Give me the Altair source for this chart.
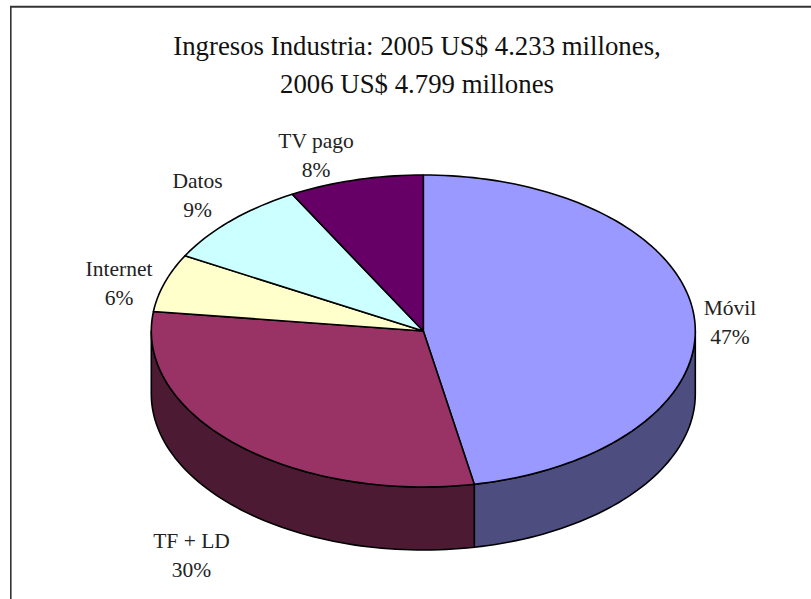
import math
import altair as alt
import pandas as pd

# Revenue share per segment, clockwise from twelve o'clock
segments = ["Móvil", "TF + LD", "Internet", "Datos", "TV pago"]
shares = [47, 30, 6, 9, 8]
top_colors = ["#9999FF", "#993366", "#FFFFCC", "#CCFFFF", "#660066"]
wall_colors = ["#4D4D80", "#4C1A33", None, None, None]
title_lines = ["Ingresos Industria: 2005 US$ 4.233 millones,", "2006 US$ 4.799 millones"]

# Layout of the tilted disc and its labels
CX, CY, RX, RY, DEPTH = 423.3, 331.0, 272.0, 156.0, 63.0
W, H = 811, 599
label_at = {
    "Móvil": (730, 309),
    "TF + LD": (191.5, 542),
    "Internet": (119, 270),
    "Datos": (197.5, 182),
    "TV pago": (316, 142),
}

x_scale = alt.Scale(domain=[0, W], range=[0, W])
y_scale = alt.Scale(domain=[0, H], range=[0, H])


def rim(start, end, drop=0.0):
    """Points along the disc rim between two angles, in degrees clockwise from the top."""
    steps = max(2, int(abs(end - start) / 1.5))
    pts = []
    for i in range(steps + 1):
        a = math.radians(start + (end - start) * i / steps)
        pts.append((CX + RX * math.sin(a), CY - RY * math.cos(a) + drop))
    return pts


def polygon(points, fill):
    closed = points + [points[0]]
    frame = pd.DataFrame(
        {"px": [p[0] for p in closed], "py": [p[1] for p in closed], "seq": range(len(closed))}
    )
    return (
        alt.Chart(frame)
        .mark_line(fill=fill, stroke="black", strokeWidth=1.6, strokeJoin="round", clip=False)
        .encode(
            x=alt.X("px:Q", scale=x_scale, axis=None),
            y=alt.Y("py:Q", scale=y_scale, axis=None),
            order="seq:Q",
        )
    )


walls, tops = [], []
angle = 0.0
total = sum(shares)
for name, share, top, wall in zip(segments, shares, top_colors, wall_colors):
    end = angle + 360.0 * share / total
    tops.append(polygon([(CX, CY)] + rim(angle, end), top))
    # Only the part of the rim facing the viewer shows a side wall
    lo, hi = max(angle, 90.0), min(end, 270.0)
    if wall and lo < hi:
        walls.append(polygon(rim(lo, hi) + rim(hi, lo, DEPTH), wall))
    angle = end

# Chart border: only the top and left edges fall inside the page
anchor = pd.DataFrame({"a": [0]})
top_edge = (
    alt.Chart(anchor)
    .mark_rule(color="#333333", strokeWidth=2)
    .encode(x=alt.value(10), x2=alt.value(811), y=alt.value(6.8))
)
left_edge = (
    alt.Chart(anchor)
    .mark_rule(color="#333333", strokeWidth=1.6)
    .encode(x=alt.value(10.8), y=alt.value(6), y2=alt.value(599))
)

title_df = pd.DataFrame({"text": ["\n".join(title_lines)]})
title_mark = (
    alt.Chart(title_df)
    .mark_text(
        font="Liberation Serif", fontSize=26.8, lineBreak="\n", lineHeight=37.5,
        align="center", baseline="middle", color="#111111",
    )
    .encode(x=alt.value(417), y=alt.value(47), text="text:N")
)

label_df = pd.DataFrame(
    {
        "text": [f"{s}\n{v}%" for s, v in zip(segments, shares)],
        "lx": [label_at[s][0] for s in segments],
        "ly": [label_at[s][1] for s in segments],
    }
)
labels = (
    alt.Chart(label_df)
    .mark_text(
        font="Liberation Serif", fontSize=21.5, lineBreak="\n", lineHeight=28.5,
        align="center", baseline="middle", color="#222222",
    )
    .encode(
        x=alt.X("lx:Q", scale=x_scale, axis=None),
        y=alt.Y("ly:Q", scale=y_scale, axis=None),
        text="text:N",
    )
)

chart = (
    alt.layer(top_edge, left_edge, *walls, *tops, title_mark, labels)
    .properties(width=W, height=H, padding=0, autosize=alt.AutoSizeParams(type="none"), background="white")
    .configure_view(stroke=None)
)

chart.save("out.html", embed_options={"renderer": "svg", "actions": False})
